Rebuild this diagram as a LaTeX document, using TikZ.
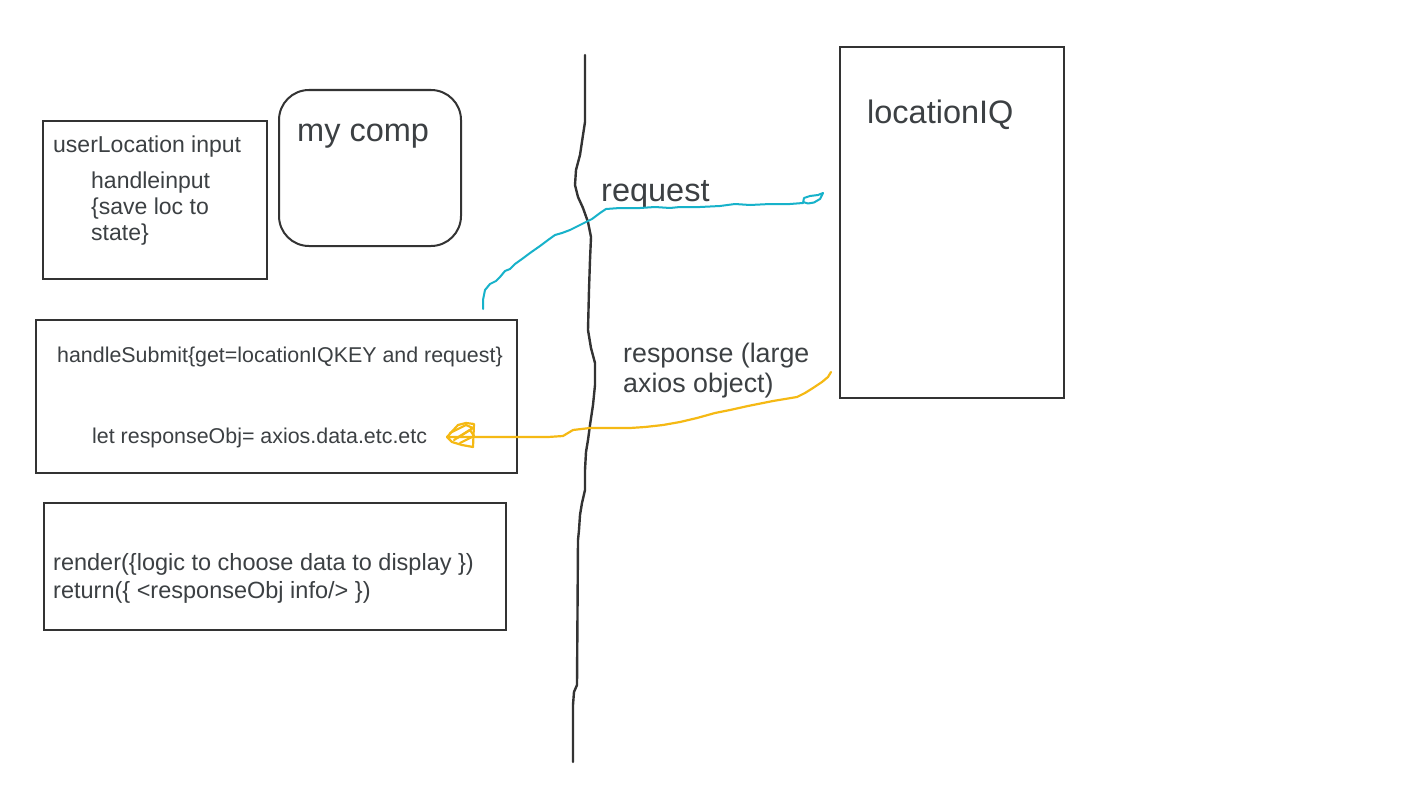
\documentclass[tikz,border=0pt]{standalone}
\usepackage{fontspec}
\setmainfont{Liberation Sans}
\definecolor{txtgray}{RGB}{60,64,67}
\definecolor{lngray}{RGB}{51,51,51}
\definecolor{reqcyan}{RGB}{23,178,202}
\definecolor{resamber}{RGB}{245,185,20}
\tikzset{
  box/.style={draw=lngray, line width=2pt, anchor=north west, inner sep=0pt},
  lbl/.style={anchor=base west, inner sep=0pt, text=txtgray},
  small/.style={lbl, font=\fontsize{21.4}{26}\selectfont},
  mid/.style={lbl, font=\fontsize{23}{28}\selectfont},
  midb/.style={lbl, font=\fontsize{23.5}{28}\selectfont},
  big/.style={lbl, font=\fontsize{32.5}{38}\selectfont},
  resp/.style={lbl, font=\fontsize{26.8}{31}\selectfont},
  divider/.style={draw=lngray, line width=2.4pt, line cap=round, line join=round},
  reqline/.style={draw=reqcyan, line width=2pt, line cap=round, line join=round},
  resline/.style={draw=resamber, line width=2.2pt, line cap=round, line join=round},
}
\begin{document}
\begin{tikzpicture}[x=1pt,y=-1pt]
\useasboundingbox (0,0) rectangle (1422,800);
\fill[white] (0,0) rectangle (1422,800);

% boxes
\node[box, minimum width=224pt, minimum height=158pt] (ulbox) at (42,120) {};
\node[box, rounded corners=30pt, minimum width=182pt, minimum height=156pt] (compbox) at (278,89) {};
\node[box, minimum width=481pt, minimum height=153pt] (subbox) at (35,319) {};
\node[box, minimum width=462pt, minimum height=127pt] (renderbox) at (43,502) {};
\node[box, minimum width=224pt, minimum height=351pt] (iqbox) at (839,46) {};

% texts
\node[mid] (t1) at (53,152) {userLocation input};
\node[mid] (t2) at (91,188) {handleinput};
\node[mid] (t3) at (91,214) {\{save loc to};
\node[mid] (t4) at (91,240) {state\}};
\node[big] (t5) at (297,141) {my comp};
\node[small] (t6) at (57,362) {handleSubmit\{get=locationIQKEY and request\}};
\node[small] (t7) at (92,443) {let responseObj= axios.data.etc.etc};
\node[midb] (t8) at (53,570) {render(\{logic to choose data to display \})};
\node[midb] (t9) at (53,598) {return(\{ <responseObj info/> \})};
\node[big] (t10) at (867,123) {locationIQ};
\node[big] (t11) at (601,201) {request};
\node[resp] (t12) at (623,362) {response (large};
\node[resp] (t13) at (623,392) {axios object)};

% wavy divider
\coordinate (divtop) at (585,55);
\coordinate (divbot) at (573,762);
\draw[divider] (divtop) -- (585,122) -- (583,135) -- (580,155) -- (576,170) -- (575,185)
  -- (578,197) -- (583,208) -- (588,222) -- (591,237) -- (590,260) -- (589,290) -- (588,330)
  -- (591,348) -- (595,363) -- (595,385) -- (593,405) -- (590,425) -- (588,440) -- (586,452)
  -- (585,470) -- (585,490) -- (582,503) -- (580,515) -- (579,530) -- (578,540)
  -- (577,685) -- (574,692) -- (573,705) -- (divbot);

% request connector (cyan)
\coordinate (reqstart) at (483,309);
\coordinate (reqend) at (823,193);
\draw[reqline] (reqstart) -- (483,300) -- (485,290) -- (490,284) -- (496,281) -- (500,277)
  -- (505,271) -- (510,269) -- (515,264) -- (522,259) -- (530,253) -- (540,246) -- (548,240)
  -- (555,235) -- (562,233) -- (570,230) -- (578,226) -- (586,222) -- (592,219) -- (600,213)
  -- (606,209) -- (620,208) -- (640,208) -- (655,207) -- (670,208) -- (680,207) -- (700,207)
  -- (720,206) -- (735,204) -- (750,205) -- (770,204) -- (790,204) -- (803,203);
\draw[reqline] (803,203) -- (804,198) -- (810,196) -- (818,195) -- (reqend)
  -- (820,199) -- (814,202.5) -- (808,203.5) -- (803,202);

% response connector (amber)
\coordinate (resstart) at (831,372);
\coordinate (restip) at (447,437);
\draw[resline] (resstart) -- (828,377) -- (822,382) -- (813,388) -- (805,393) -- (797,397)
  -- (785,399) -- (773,401) -- (763,403) -- (748,406) -- (730,410) -- (715,413) -- (697,418)
  -- (680,422) -- (663,425) -- (645,427) -- (630,428) -- (610,428) -- (590,428) -- (573,430)
  -- (568,433) -- (563,436) -- (548,437) -- (530,437) -- (500,437) -- (473,437) -- (462,437);
\draw[resline] (restip) -- (458,425) -- (466,423) -- (474,424) -- (473,447) -- (462,445)
  -- (452,442) -- (restip) -- (462,437);
\draw[resline] (450,433) -- (466,425) -- (473,428) -- (457,438);
\draw[resline] (454,440) -- (470,430) -- (474,436) -- (460,443);
\end{tikzpicture}
\end{document}
